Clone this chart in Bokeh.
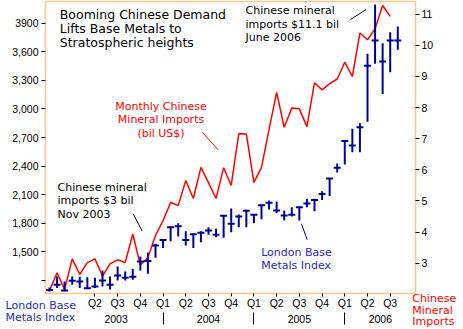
from bokeh.plotting import figure
from bokeh.models import Range1d, LinearAxis, FixedTicker, Label, Title, ColumnDataSource
from bokeh.embed import file_html
from bokeh.resources import INLINE

# ---------------- data ----------------
imp_months = ["2002-09", "2002-10", "2002-11", "2002-12",
              "2003-01", "2003-02", "2003-03", "2003-04", "2003-05", "2003-06",
              "2003-07", "2003-08", "2003-09", "2003-10", "2003-11", "2003-12",
              "2004-01", "2004-02", "2004-03", "2004-04", "2004-05", "2004-06",
              "2004-07", "2004-08", "2004-09", "2004-10", "2004-11", "2004-12",
              "2005-01", "2005-02", "2005-03", "2005-04", "2005-05", "2005-06",
              "2005-07", "2005-08", "2005-09", "2005-10", "2005-11", "2005-12",
              "2006-01", "2006-02", "2006-03", "2006-04", "2006-05", "2006-06",
              "2006-07"]
imports = [2.20, 2.12, 2.69, 2.16,
           3.14, 2.64, 3.02, 3.14, 2.59, 2.98, 3.11, 3.02, 3.94, 2.94, 3.18, 3.89,
           4.37, 4.95, 4.85, 5.66, 5.08, 6.08, 5.59, 5.08, 6.07, 5.50, 7.16, 7.15,
           5.60, 6.08, 7.30, 8.49, 7.37, 7.99, 7.96, 7.39, 8.80, 8.57, 8.77, 8.92,
           9.46, 9.00, 10.40, 10.18, 10.53, 11.28, 10.93]

lme_months = imp_months[1:] + ["2006-08"]
lme_high = [1127, 1242, 1190, 1242, 1239, 1235, 1228, 1305, 1242, 1347, 1294, 1322,
            1452, 1494, 1585, 1626, 1767, 1802, 1718, 1690, 1718, 1760, 1742, 1882,
            1955, 1892, 1942, 1890, 1997, 2039, 2028, 1934, 1969, 1976, 2057, 2057,
            2137, 2273, 2427, 2669, 2791, 2851, 3578, 4095, 3689, 3805, 3864]
lme_low = [1085, 1123, 1088, 1155, 1123, 1113, 1123, 1137, 1106, 1200, 1200, 1207,
           1305, 1270, 1438, 1542, 1613, 1662, 1568, 1542, 1602, 1679, 1655, 1648,
           1707, 1760, 1760, 1802, 1843, 1944, 1906, 1829, 1871, 1829, 1969, 1927,
           2046, 2088, 2333, 2417, 2546, 2546, 2865, 3473, 3158, 3385, 3620]
lme_close = [1102, 1155, 1095, 1197, 1190, 1119, 1137, 1200, 1155, 1252, 1228, 1239,
             1399, 1406, 1567, 1626, 1760, 1770, 1626, 1686, 1700, 1725, 1680, 1879,
             1795, 1872, 1932, 1890, 1990, 2015, 1934, 1882, 1890, 1969, 2008, 2046,
             2109, 2271, 2382, 2664, 2616, 2809, 3454, 3718, 3497, 3718, 3718]

quarter_names = ["Q1", "Q2", "Q3", "Q4"]
year_names = ["2003", "2004", "2005", "2006"]
left_ticks = [1200, 1500, 1800, 2100, 2400, 2700, 3000, 3300, 3600, 3900]
right_ticks = [3, 4, 5, 6, 7, 8, 9, 10, 11]
lme_title = "London Base\nMetals Index"
imp_title = "Chinese\nMineral\nImports"


def midx(s):
    y, mo = map(int, s.split("-"))
    return (y - 2003) * 12 + (mo - 1)


imp_x = [midx(s) for s in imp_months]
lme_x = [midx(s) for s in lme_months]

ORANGE = "#FFC68A"
RED = "#FF0000"
NAVY = "#000099"
BLUE_TXT = "#2B2BB8"
TICK_FONT = "Liberation Sans"
TXT_FONT = "DejaVu Sans"

p = figure(width=463, height=329, output_backend="svg", toolbar_location=None,
           x_range=Range1d(-3.526, 45.34), y_range=Range1d(1064, 4127),
           x_axis_type=None, y_axis_type=None,
           min_border_left=45, min_border_right=48, min_border_top=1,
           min_border_bottom=36)
p.extra_y_ranges = {"imp": Range1d(2.027, 11.41)}
p.xgrid.visible = False
p.ygrid.visible = False
p.outline_line_color = ORANGE
p.outline_line_width = 1.5
p.background_fill_color = "white"
p.border_fill_color = "white"


def style_axis(ax):
    ax.major_label_text_font = TICK_FONT
    ax.major_label_text_font_size = "10.5px"
    ax.major_label_text_color = "#000000"
    ax.major_tick_line_color = "#000000"
    ax.minor_tick_line_color = None
    ax.axis_line_color = ORANGE
    ax.major_tick_in = 0
    ax.minor_tick_in = 0
    ax.minor_tick_out = 0


# left axis
la = LinearAxis(ticker=FixedTicker(ticks=left_ticks))
style_axis(la)
la.major_tick_out = 4
la.major_label_standoff = 3
la.major_label_overrides = {t: ("" if t == 1200 else ("3900" if t == 3900 else f"{t:,}"))
                            for t in left_ticks}
p.add_layout(la, "left")

# right axis
ra = LinearAxis(y_range_name="imp", ticker=FixedTicker(ticks=right_ticks))
style_axis(ra)
ra.major_tick_out = 4
ra.major_label_standoff = 2
p.add_layout(ra, "right")

# quarter axis
q_ticks = list(range(3, 43, 3))
qa = LinearAxis(ticker=FixedTicker(ticks=q_ticks))
style_axis(qa)
qa.major_tick_out = 3
qa.major_label_standoff = 0
qa.major_label_overrides = {t: quarter_names[(t % 12) // 3] for t in q_ticks}
p.add_layout(qa, "below")

# series titles in the bottom margin (negative standoff -> almost no extra room)
p.add_layout(Title(text=imp_title, align="left", vertical_align="top", offset=366.7,
                   standoff=-39, text_font=TXT_FONT, text_font_size="11px",
                   text_font_style="normal", text_color=RED,
                   text_line_height=0.89), "below")
p.add_layout(Title(text=lme_title, align="left", vertical_align="top", offset=-40,
                   standoff=-26, text_font=TXT_FONT, text_font_size="11px",
                   text_font_style="normal", text_color=BLUE_TXT,
                   text_line_height=0.96), "below")

# year axis
year_pos = [5.8, 18, 30, 40.7]
ya = LinearAxis(ticker=FixedTicker(ticks=year_pos, minor_ticks=[12, 24, 36]))
style_axis(ya)
ya.axis_line_color = None
ya.major_tick_line_color = None
ya.major_tick_out = 0
ya.major_label_standoff = 2
ya.minor_tick_line_color = "#000000"
ya.minor_tick_out = 0
ya.minor_tick_in = -12
ya.major_label_overrides = {t: n for t, n in zip(year_pos, year_names)}
p.add_layout(ya, "below")

# red imports line
p.line(imp_x, imports, y_range_name="imp", line_color=RED, line_width=1.5)

# LME bars
src = ColumnDataSource(dict(x=lme_x, hi=lme_high, lo=lme_low, cl=lme_close))
p.segment(x0="x", y0="lo", x1="x", y1="hi", source=src, line_color=NAVY, line_width=2)
p.scatter(x="x", y="cl", source=src, marker="dash", size=7, line_color=NAVY,
          line_width=2, angle=0)

# pointer lines
pointers = [
    ((17.17, 2756), (19.28, 2571), RED),
    ((8.06, 1900), (9.24, 1718), "#000000"),
    ((36.75, 3938), (38.83, 4043), "#000000"),
    ((30.28, 1795), (31.04, 1627), NAVY),
]
for (x0, y0), (x1, y1), c in pointers:
    p.segment(x0=[x0], y0=[y0], x1=[x1], y1=[y1], line_color=c, line_width=1)


def add_label(x, y, text, color, size, lh, align="left"):
    p.add_layout(Label(x=x, y=y, text=text, text_color=color, text_font=TXT_FONT,
                       text_font_size=size, text_baseline="top", text_align=align,
                       text_line_height=lh))


add_label(-1.64, 4070, "Booming Chinese Demand\nLifts Base Metals to\nStratospheric heights",
          "#000000", "12.5px", 0.95)
add_label(11.73, 3092, "Monthly Chinese\nMineral Imports\n(bil US$)", RED, "11px", 1.02,
          align="center")
add_label(-1.94, 2246, "Chinese mineral\nimports $3 bil\nNov 2003", "#000000", "11px", 1.04)
add_label(22.89, 4096, "Chinese mineral\nimports $11.1 bil\nJune 2006", "#000000", "11px", 1.02)
add_label(24.96, 1564, lme_title, BLUE_TXT, "11px", 1.03)

open("out.html", "w").write(file_html(p, INLINE))
